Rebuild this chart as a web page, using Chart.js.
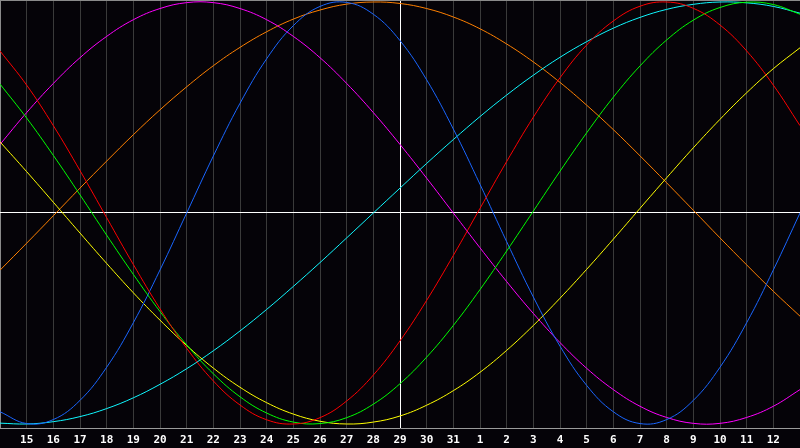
<!DOCTYPE html>
<html>
<head>
<meta charset="utf-8">
<script src="https://cdn.jsdelivr.net/npm/chart.js@4/dist/chart.umd.min.js"></script>
<style>
  html, body { margin: 0; padding: 0; background: #050308; }
  #wrap { width: 800px; height: 448px; }
</style>
</head>
<body>
<div id="wrap"><canvas id="grafico"></canvas></div>
<script>
// day labels along the bottom (first and last grid line have no label)
const dias = ['', '15', '16', '17', '18', '19', '20', '21', '22', '23', '24', '25', '26', '27', '28',
    '29', '30', '31', '1', '2', '3', '4', '5', '6', '7', '8', '9', '10', '11', '12', ''];

const vermelho = [0.768, 0.606, 0.414, 0.201, -0.022, -0.244, -0.454, -0.641, -0.796, -0.910, -0.980,
    -1.000, -0.970, -0.891, -0.768, -0.606, -0.414, -0.201, 0.022, 0.244, 0.454, 0.641, 0.796, 0.910,
    0.980, 1.000, 0.970, 0.891, 0.768, 0.606, 0.414];
const verde = [0.611, 0.450, 0.273, 0.086, -0.105, -0.291, -0.467, -0.625, -0.762, -0.871, -0.948,
    -0.991, -0.998, -0.970, -0.906, -0.809, -0.683, -0.533, -0.363, -0.180, 0.009, 0.198, 0.380, 0.549,
    0.697, 0.820, 0.914, 0.974, 0.999, 0.988, 0.942];
const azul = [-0.942, -0.998, -0.979, -0.888, -0.731, -0.520, -0.270, 0.000, 0.270, 0.520, 0.731,
    0.888, 0.979, 0.998, 0.942, 0.817, 0.631, 0.398, 0.136, -0.136, -0.398, -0.631, -0.817, -0.942,
    -0.998, -0.979, -0.888, -0.731, -0.520, -0.270, 0.000];
const amarelo = [0.337, 0.196, 0.051, -0.095, -0.239, -0.378, -0.508, -0.628, -0.735, -0.826, -0.899,
    -0.953, -0.987, -1.000, -0.991, -0.962, -0.911, -0.842, -0.755, -0.651, -0.533, -0.404, -0.267,
    -0.124, 0.022, 0.167, 0.309, 0.444, 0.570, 0.684, 0.783];
const ciano = [-0.996, -1.000, -0.989, -0.965, -0.927, -0.876, -0.812, -0.738, -0.653, -0.559, -0.457,
    -0.348, -0.235, -0.118, 0.000, 0.118, 0.235, 0.348, 0.457, 0.559, 0.653, 0.738, 0.812, 0.876,
    0.927, 0.965, 0.989, 1.000, 0.996, 0.979, 0.947];
const magenta = [0.325, 0.476, 0.614, 0.736, 0.837, 0.916, 0.969, 0.997, 0.997, 0.969, 0.916, 0.837,
    0.736, 0.614, 0.476, 0.325, 0.165, 0.000, -0.165, -0.325, -0.476, -0.614, -0.736, -0.837, -0.916,
    -0.969, -0.997, -0.997, -0.969, -0.916, -0.837];
const laranja = [-0.271, -0.143, -0.013, 0.118, 0.246, 0.371, 0.489, 0.598, 0.698, 0.785, 0.859,
    0.919, 0.962, 0.990, 1.000, 0.993, 0.969, 0.929, 0.873, 0.801, 0.716, 0.619, 0.511, 0.395, 0.271,
    0.143, 0.013, -0.118, -0.246, -0.371, -0.489];

const Y_MIN = -1.019;
const Y_MAX = 1.0095;
const HOJE = 15; // index of the white vertical line

function serie(valores, cor) {
    return {
        data: valores,
        borderColor: cor,
        borderWidth: 1,
        pointRadius: 0,
        tension: 0.4,
        fill: false
    };
}

const data = {
    labels: dias,
    datasets: [
        serie(vermelho, '#ff0000'),
        serie(verde, '#00ff00'),
        serie(azul, '#1a66ff'),
        serie(amarelo, '#ffff00'),
        serie(ciano, '#10f8ff'),
        serie(magenta, '#ff00ff'),
        serie(laranja, '#ff8000')
    ]
};

const config = {
    type: 'line',
    data: data,
    options: {
        responsive: true,
        maintainAspectRatio: false,
        animation: false,
        devicePixelRatio: 1,
        layout: { padding: 0 },
        plugins: {
            legend: { display: false },
            tooltip: { enabled: false }
        },
        scales: {
            x: {
                offset: false,
                afterFit: (scale) => {
                    scale.paddingLeft = 0;
                    scale.paddingRight = 0;
                    scale.height = 20;
                },
                border: { display: true, color: '#9a9a9a', width: 1 },
                grid: {
                    drawTicks: false,
                    lineWidth: 1,
                    color: (ctx) => {
                        if (ctx.index === HOJE) return '#ffffff';
                        if (ctx.index === 0) return '#8a8a8a';
                        return '#3a3a3a';
                    }
                },
                ticks: {
                    autoSkip: false,
                    maxRotation: 0,
                    padding: 6,
                    color: '#ffffff',
                    font: { family: 'DejaVu Sans Mono', size: 11, weight: 'bold' }
                }
            },
            y: {
                min: Y_MIN,
                max: Y_MAX,
                border: { display: false },
                afterBuildTicks: (scale) => {
                    scale.ticks = [{ value: 0 }, { value: Y_MAX }];
                },
                afterFit: (scale) => {
                    scale.width = 0;
                    scale.paddingTop = 0;
                    scale.paddingBottom = 0;
                },
                grid: {
                    drawTicks: false,
                    lineWidth: 1,
                    color: (ctx) => ctx.tick && ctx.tick.value === 0 ? '#ffffff' : '#8a8a8a'
                },
                ticks: { display: false }
            }
        }
    }
};

const grafico = new Chart(document.getElementById('grafico'), config);
</script>
</body>
</html>
